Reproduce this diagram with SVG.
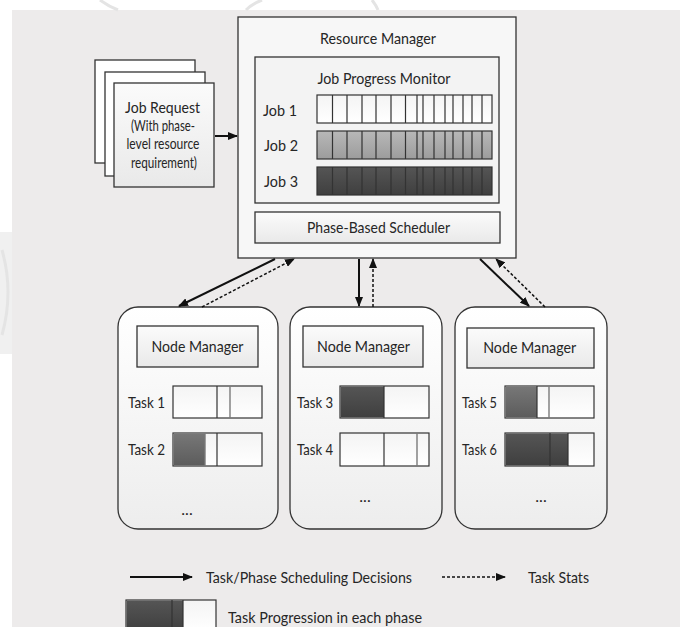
<svg xmlns="http://www.w3.org/2000/svg" xmlns:xlink="http://www.w3.org/1999/xlink" width="681" height="627" viewBox="0 0 681 627">
<defs>
<style>
text{font-family:Lato,"Liberation Sans",sans-serif;fill:#262626;font-size:16px}
.c{text-anchor:middle}
.s{font-size:15px}
.box{stroke:#333;stroke-width:1.3}
.bar{stroke:#333;stroke-width:1.2}
.dv{stroke:#333;stroke-width:1.2}
.dl{stroke:#7a7a7a;stroke-width:1.4}
.sol{stroke:#111;stroke-width:2;fill:none}
.das{stroke:#111;stroke-width:1.5;stroke-dasharray:3 2;fill:none}
</style>
<linearGradient id="gPanel" x1="0" y1="0" x2="0" y2="1"><stop offset="0" stop-color="#ffffff"/><stop offset="1" stop-color="#ededed"/></linearGradient>
<linearGradient id="gBox" x1="0" y1="0" x2="0" y2="1"><stop offset="0" stop-color="#fbfbfb"/><stop offset="1" stop-color="#e9e9e9"/></linearGradient>
<linearGradient id="gW" x1="0" y1="0" x2="0" y2="1"><stop offset="0" stop-color="#f4f4f4"/><stop offset="1" stop-color="#ffffff"/></linearGradient>
<linearGradient id="gMid" x1="0" y1="0" x2="0" y2="1"><stop offset="0" stop-color="#b8b8b8"/><stop offset="1" stop-color="#9c9c9c"/></linearGradient>
<linearGradient id="gDark" x1="0" y1="0" x2="0" y2="1"><stop offset="0" stop-color="#555"/><stop offset="1" stop-color="#3f3f3f"/></linearGradient>
<linearGradient id="gMedDark" x1="0" y1="0" x2="0" y2="1"><stop offset="0" stop-color="#777"/><stop offset="1" stop-color="#5c5c5c"/></linearGradient>
<marker id="ah" markerUnits="userSpaceOnUse" markerWidth="10" markerHeight="8" refX="9" refY="4" orient="auto"><path d="M0,0 L10,4 L0,8 z" fill="#111"/></marker>
<path id="jdiv" d="M332.5 0V28M347 0V28M362 0V28M376 0V28M391 0V28M405.5 0V28M417 0V28M423 0V28M434 0V28M445 0V28M453 0V28M463 0V28M472 0V28M482 0V28" stroke="#333" stroke-width="1.2"/>
</defs>

<rect x="0" y="0" width="681" height="627" fill="#ffffff"/>
<rect x="12" y="10" width="668" height="617" fill="#edebeb"/>
<g fill="none" stroke="#e4e4e4" stroke-width="3">
<rect x="-2" y="232" width="14" height="122" fill="#f0f0f0" stroke="none"/>
<path d="M2 250 Q14 292 2 335"/>
<path d="M100 0 Q108 6 118 10"/>
<path d="M246 10 Q252 4 262 0"/>
<path d="M372 0 Q376 5 378 10"/>
</g>

<g id="job-request">
<rect x="95" y="60" width="100" height="103" fill="#ffffff" class="box"/>
<rect x="105" y="72" width="100" height="104" fill="#ffffff" class="box"/>
<rect x="114" y="83" width="100" height="104" fill="url(#gBox)" class="box"/>
<text class="c" x="162.5" y="113" textLength="75" lengthAdjust="spacingAndGlyphs">Job Request</text>
<text class="c s" x="163" y="131" textLength="64" lengthAdjust="spacingAndGlyphs">(With phase-</text>
<text class="c s" x="163" y="149" textLength="73" lengthAdjust="spacingAndGlyphs">level resource</text>
<text class="c s" x="164" y="168" textLength="66" lengthAdjust="spacingAndGlyphs">requirement)</text>
</g>

<g id="resource-manager">
<rect x="238" y="17" width="278" height="241" fill="#f7f7f7" class="box"/>
<text class="c" x="378" y="44" textLength="116" lengthAdjust="spacingAndGlyphs">Resource Manager</text>
<g id="job-progress-monitor">
<rect x="255" y="57" width="244" height="146" fill="#f3f3f3" class="box"/>
<text class="c" x="384" y="84" textLength="133" lengthAdjust="spacingAndGlyphs">Job Progress Monitor</text>
<text x="263" y="116" textLength="34" lengthAdjust="spacingAndGlyphs">Job 1</text>
<rect x="317" y="95" width="175" height="28" fill="url(#gW)" class="bar"/>
<use xlink:href="#jdiv" y="95"/>
<text x="264" y="151" textLength="34" lengthAdjust="spacingAndGlyphs">Job 2</text>
<rect x="317" y="131" width="175" height="28" fill="url(#gMid)" class="bar"/>
<use xlink:href="#jdiv" y="131"/>
<text x="264" y="187" textLength="34" lengthAdjust="spacingAndGlyphs">Job 3</text>
<rect x="317" y="167" width="175" height="28" fill="url(#gDark)" class="bar"/>
<use xlink:href="#jdiv" y="167"/>
</g>
<g id="phase-based-scheduler">
<rect x="255" y="212" width="245" height="31" fill="url(#gBox)" class="box"/>
<text class="c" x="378.5" y="233" textLength="143" lengthAdjust="spacingAndGlyphs">Phase-Based Scheduler</text>
</g>
</g>

<g id="node-1">
<rect x="118" y="307" width="160" height="222" rx="20" ry="20" fill="url(#gPanel)" class="box"/>
<rect x="137" y="326" width="121" height="41" fill="url(#gBox)" class="box"/>
<text class="c" x="197.5" y="352" textLength="92" lengthAdjust="spacingAndGlyphs">Node Manager</text>
<text x="128" y="408" textLength="37" lengthAdjust="spacingAndGlyphs">Task 1</text>
<rect x="173" y="386" width="89" height="32" fill="url(#gW)" class="bar"/>
<line x1="217" y1="386" x2="217" y2="418" class="dv"/>
<line x1="230" y1="386" x2="230" y2="418" class="dl"/>
<text x="128" y="455" textLength="37" lengthAdjust="spacingAndGlyphs">Task 2</text>
<rect x="173" y="433" width="89" height="33" fill="url(#gW)" class="bar"/>
<rect x="173.6" y="433.6" width="31.4" height="31.8" fill="url(#gMedDark)"/>
<line x1="205" y1="433" x2="205" y2="466" class="dl"/>
<line x1="217" y1="433" x2="217" y2="466" class="dv"/>
<text class="c" x="187" y="515">...</text>
</g>

<g id="node-2">
<rect x="290" y="307" width="152" height="222" rx="20" ry="20" fill="url(#gPanel)" class="box"/>
<rect x="303" y="326" width="120" height="41" fill="url(#gBox)" class="box"/>
<text class="c" x="363.5" y="352" textLength="93" lengthAdjust="spacingAndGlyphs">Node Manager</text>
<text x="297" y="408" textLength="36" lengthAdjust="spacingAndGlyphs">Task 3</text>
<rect x="340" y="386" width="89" height="32" fill="url(#gW)" class="bar"/>
<rect x="340.6" y="386.6" width="43.4" height="30.8" fill="url(#gDark)"/>
<line x1="384" y1="386" x2="384" y2="418" class="dv"/>
<text x="297" y="455" textLength="36" lengthAdjust="spacingAndGlyphs">Task 4</text>
<rect x="340" y="433" width="89" height="33" fill="url(#gW)" class="bar"/>
<line x1="384" y1="433" x2="384" y2="466" class="dv"/>
<line x1="417" y1="433" x2="417" y2="466" class="dl"/>
<text class="c" x="365" y="502">...</text>
</g>

<g id="node-3">
<rect x="455" y="307" width="152" height="222" rx="20" ry="20" fill="url(#gPanel)" class="box"/>
<rect x="467" y="328" width="127" height="40" fill="url(#gBox)" class="box"/>
<text class="c" x="529.7" y="353" textLength="93" lengthAdjust="spacingAndGlyphs">Node Manager</text>
<text x="462" y="408" textLength="35" lengthAdjust="spacingAndGlyphs">Task 5</text>
<rect x="505" y="386" width="89" height="32" fill="url(#gW)" class="bar"/>
<rect x="505.6" y="386.6" width="31.4" height="30.8" fill="url(#gMedDark)"/>
<line x1="537" y1="386" x2="537" y2="418" class="dv"/>
<line x1="549" y1="386" x2="549" y2="418" class="dl"/>
<text x="462" y="455" textLength="35" lengthAdjust="spacingAndGlyphs">Task 6</text>
<rect x="505" y="433" width="89" height="33" fill="url(#gW)" class="bar"/>
<rect x="505.6" y="433.6" width="62.4" height="31.8" fill="url(#gDark)"/>
<line x1="550" y1="433" x2="550" y2="466" class="dv"/>
<line x1="568" y1="433" x2="568" y2="466" class="dv"/>
<text class="c" x="541" y="502">...</text>
</g>

<g id="connectors">
<line x1="275" y1="259" x2="179" y2="306" class="sol" marker-end="url(#ah)"/>
<line x1="202" y1="307" x2="294" y2="259" class="das" marker-end="url(#ah)"/>
<line x1="359" y1="259" x2="359" y2="306" class="sol" marker-end="url(#ah)"/>
<line x1="373" y1="307" x2="373" y2="259" class="das" marker-end="url(#ah)"/>
<line x1="480" y1="259" x2="529" y2="306" class="sol" marker-end="url(#ah)"/>
<line x1="545" y1="307" x2="496" y2="259" class="das" marker-end="url(#ah)"/>
<line x1="215" y1="136" x2="237" y2="136" class="sol" marker-end="url(#ah)"/>
</g>

<g id="legend">
<line x1="130" y1="577" x2="192" y2="577" class="sol" marker-end="url(#ah)"/>
<text x="206" y="583" textLength="206" lengthAdjust="spacingAndGlyphs">Task/Phase Scheduling Decisions</text>
<line x1="442" y1="577" x2="505" y2="577" class="das" marker-end="url(#ah)"/>
<text x="528" y="583" textLength="61" lengthAdjust="spacingAndGlyphs">Task Stats</text>
<rect x="126" y="600" width="90" height="32" fill="url(#gW)" class="bar"/>
<rect x="126.6" y="600.6" width="56.4" height="30" fill="url(#gDark)"/>
<line x1="172" y1="600" x2="172" y2="627" class="dv"/>
<line x1="183" y1="600" x2="183" y2="627" class="dv"/>
<text x="228" y="623" textLength="194" lengthAdjust="spacingAndGlyphs">Task Progression in each phase</text>
</g>
</svg>
